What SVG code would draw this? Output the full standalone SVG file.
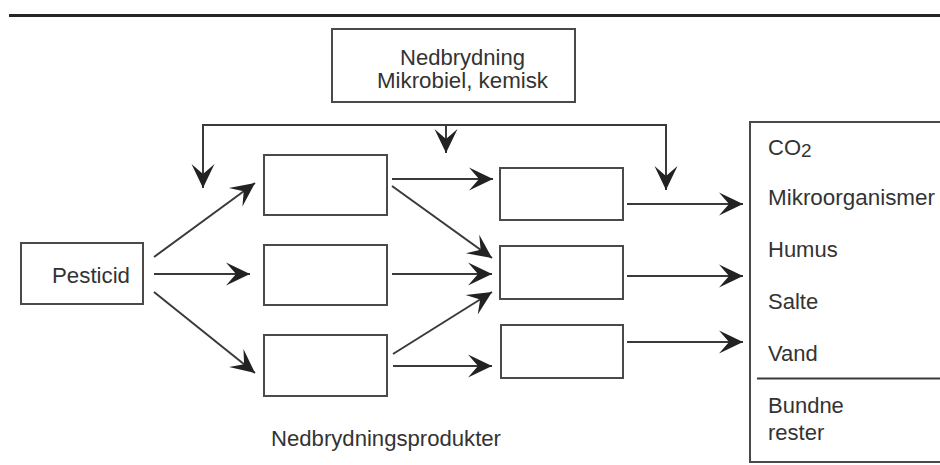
<svg xmlns="http://www.w3.org/2000/svg" width="940" height="465" viewBox="0 0 940 465">
<style>
.box{fill:#fff;stroke:#4a4a4a;stroke-width:2}
.ln{fill:none;stroke:#3a3a3a;stroke-width:2}
.arr{fill:none;stroke:#3a3a3a;stroke-width:2;marker-end:url(#ah)}
text{font-family:"Liberation Sans",Arial,sans-serif;font-size:22px;fill:#333}
</style>
<defs>
<marker id="ah" viewBox="-26 -14 28 28" refX="0" refY="0" markerWidth="28" markerHeight="28" markerUnits="userSpaceOnUse" orient="auto">
<path d="M0,0 L-24,-11.5 L-14,0 L-24,11.5 Z" fill="#222"/>
</marker>
</defs>
<rect width="940" height="465" fill="#fff"/>
<line x1="9" y1="15.5" x2="940" y2="15.5" stroke="#262626" stroke-width="3"/>

<g id="nedbrydning">
<rect class="box" x="332" y="29" width="243" height="73"/>
<text x="400" y="65" textLength="125" lengthAdjust="spacingAndGlyphs">Nedbrydning</text>
<text x="377" y="88" textLength="171" lengthAdjust="spacingAndGlyphs">Mikrobiel, kemisk</text>
</g>

<g id="pesticid">
<rect class="box" x="21" y="243" width="122" height="61"/>
<text x="52" y="283" textLength="78" lengthAdjust="spacingAndGlyphs">Pesticid</text>
</g>

<g id="p1"><rect class="box" x="264" y="155" width="123" height="60"/></g>
<g id="p2"><rect class="box" x="264" y="245" width="123" height="60"/></g>
<g id="p3"><rect class="box" x="264" y="335" width="123" height="61"/></g>
<g id="q1"><rect class="box" x="500" y="168" width="123" height="52"/></g>
<g id="q2"><rect class="box" x="500" y="246" width="123" height="53"/></g>
<g id="q3"><rect class="box" x="501" y="325" width="122" height="53"/></g>

<g id="produkter-label">
<text x="271" y="446" textLength="230" lengthAdjust="spacingAndGlyphs">Nedbrydningsprodukter</text>
</g>

<g id="slutprodukter">
<path class="box" d="M941,122 H750 V462 H941"/>
<line class="ln" x1="757" y1="378.5" x2="940" y2="378.5"/>
<text x="768" y="155">CO<tspan font-size="19" dy="2">2</tspan></text>
<text x="768" y="205" textLength="167" lengthAdjust="spacingAndGlyphs">Mikroorganismer</text>
<text x="768" y="257">Humus</text>
<text x="768" y="309">Salte</text>
<text x="768" y="361">Vand</text>
<text x="768" y="413">Bundne</text>
<text x="768" y="440">rester</text>
</g>

<g id="connectors">
<path class="ln" d="M203,125 H666"/>
<path class="arr" d="M203,124 V188"/>
<path class="arr" d="M666,124 V190"/>
<path class="arr" d="M446,125 V153"/>
<path class="arr" d="M154,257 L255,183"/>
<path class="arr" d="M154,274 L250,274"/>
<path class="arr" d="M154,292 L255,373"/>
<path class="arr" d="M392,179 L493,179"/>
<path class="arr" d="M392,186 L492,258"/>
<path class="arr" d="M392,274 L492,274"/>
<path class="arr" d="M393,354 L492,292"/>
<path class="arr" d="M393,366 L492,366"/>
<path class="arr" d="M627,204 L743,204"/>
<path class="arr" d="M627,276 L743,276"/>
<path class="arr" d="M627,342 L743,342"/>
</g>
</svg>
